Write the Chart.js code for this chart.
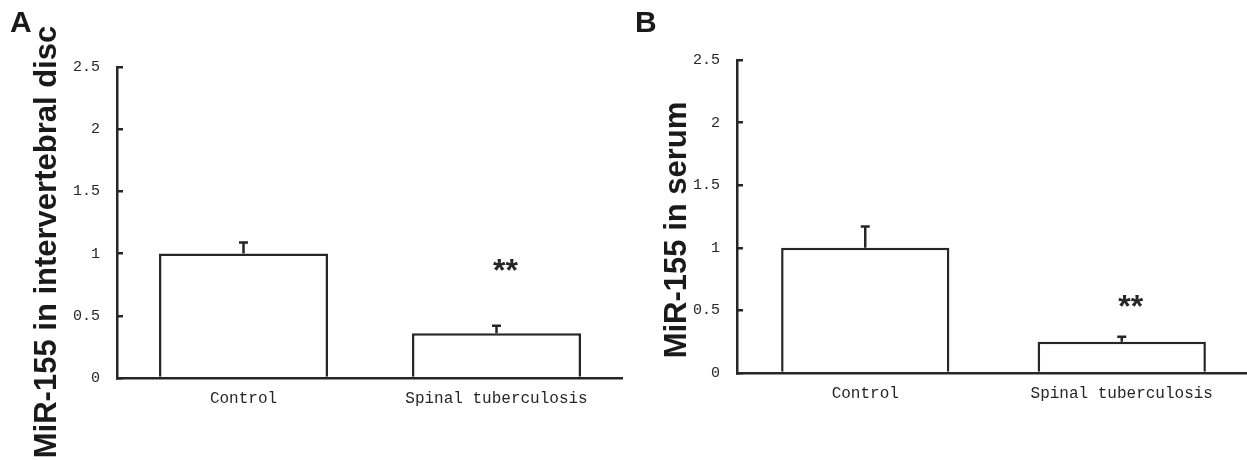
<!DOCTYPE html>
<html>
<head>
<meta charset="utf-8">
<script src="https://cdn.jsdelivr.net/npm/chart.js@4.4.1/dist/chart.umd.min.js"></script>
<style>
  html, body { margin: 0; padding: 0; background: #fff; overflow: hidden; }
  body { width: 1247px; height: 460px; position: relative; }
  .panel { position: absolute; top: 0; }
  #panelA { left: 0; }
  #panelB { left: 620px; }
</style>
</head>
<body>
<div class="panel" id="panelA"><canvas id="chartA" width="623" height="460"></canvas></div>
<div class="panel" id="panelB"><canvas id="chartB" width="630" height="460"></canvas></div>
<script>
// values (relative expression, mean + SD)
const categories = ["Control", "Spinal tuberculosis"];
const yTicks = [0, 0.5, 1, 1.5, 2, 2.5];

const discMeans = [1.0, 0.36];
const discErrors = [0.09, 0.06];
const discStars = ["", "**"];
const discStarY = [null, 0.92];

const serumMeans = [1.0, 0.25];
const serumErrors = [0.17, 0.04];
const serumStars = ["", "**"];
const serumStarY = [null, 0.59];

const ink = "#262626";

// draws error bars, the significance stars, panel letter and rotated y title
function extrasPlugin(o) {
  return {
    id: "extras",
    afterDatasetsDraw(chart) {
      const ctx = chart.ctx;
      const y = chart.scales.y;
      const meta = chart.getDatasetMeta(0);
      ctx.save();
      ctx.strokeStyle = ink;
      ctx.lineWidth = 2.5;
      meta.data.forEach((bar, i) => {
        const yBar = y.getPixelForValue(o.means[i]);
        const yTop = y.getPixelForValue(o.means[i] + o.errors[i]);
        ctx.beginPath();
        ctx.moveTo(bar.x, yBar);
        ctx.lineTo(bar.x, yTop);
        ctx.moveTo(bar.x - 4.5, yTop);
        ctx.lineTo(bar.x + 4.5, yTop);
        ctx.stroke();
        if (o.stars[i]) {
          ctx.fillStyle = ink;
          ctx.font = "bold 32px 'Liberation Sans', Arial, sans-serif";
          ctx.textAlign = "center";
          ctx.textBaseline = "alphabetic";
          ctx.fillText(o.stars[i], bar.x + 9, y.getPixelForValue(o.starY[i]) + 0.56 * 32);
        }
      });
      ctx.restore();
    },
    afterDraw(chart) {
      const ctx = chart.ctx;
      ctx.save();
      ctx.fillStyle = "#1a1a1a";
      ctx.font = "bold 30px 'Liberation Sans', Arial, sans-serif";
      ctx.textAlign = "left";
      ctx.textBaseline = "alphabetic";
      ctx.fillText(o.letter, o.letterX, 32);
      ctx.translate(o.titleX, o.titleY);
      ctx.rotate(-Math.PI / 2);
      ctx.font = "bold 31px 'Liberation Sans', Arial, sans-serif";
      ctx.textAlign = "center";
      ctx.fillText(o.title, 0, 0);
      ctx.restore();
    }
  };
}

function makeChart(id, o) {
  return new Chart(document.getElementById(id), {
    type: "bar",
    data: {
      labels: categories,
      datasets: [{
        data: o.means,
        backgroundColor: "#ffffff",
        borderColor: ink,
        borderWidth: 2.5,
        barPercentage: o.barPct,
        categoryPercentage: 1
      }]
    },
    options: {
      responsive: false,
      animation: false,
      layout: { padding: { top: o.top, left: 0, right: 0, bottom: 0 } },
      plugins: { legend: { display: false }, tooltip: { enabled: false } },
      scales: {
        x: {
          afterFit(s) { s.height = o.xHeight; },
          grid: { display: false, drawTicks: false },
          border: { color: ink, width: 2.5 },
          ticks: {
            color: ink,
            padding: 11,
            maxRotation: 0,
            autoSkip: false,
            font: { family: "'Liberation Mono', monospace", size: 16 }
          }
        },
        y: {
          min: 0,
          max: 2.5,
          afterFit(s) { s.width = 117; },
          afterBuildTicks(s) { s.ticks = yTicks.map(v => ({ value: v })); },
          grid: { drawOnChartArea: false, tickLength: -6, color: ink, lineWidth: 2.5 },
          border: { color: ink, width: 2.5 },
          ticks: {
            color: ink,
            padding: 23,
            callback: v => String(v),
            font: { family: "'Liberation Mono', monospace", size: 15 }
          }
        }
      }
    },
    plugins: [extrasPlugin(o)]
  });
}

makeChart("chartA", {
  means: discMeans, errors: discErrors, stars: discStars, starY: discStarY,
  barPct: 0.668, top: 67, xHeight: 82,
  letter: "A", letterX: 10,
  title: "MiR-155 in intervertebral disc", titleX: 56, titleY: 242
});

makeChart("chartB", {
  means: serumMeans, errors: serumErrors, stars: serumStars, starY: serumStarY,
  barPct: 0.656, top: 60, xHeight: 87,
  letter: "B", letterX: 15,
  title: "MiR-155 in serum", titleX: 66, titleY: 230
});
</script>
</body>
</html>
